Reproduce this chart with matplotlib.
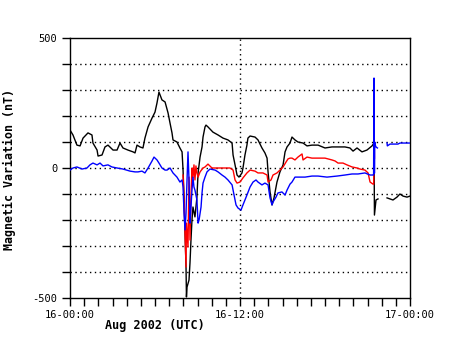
import numpy as np
import matplotlib
matplotlib.use("Agg")
import matplotlib.pyplot as plt

# hours since 16-00:00 (UTC), values in nT
black_t = [0.00, 0.21, 0.49, 0.71, 0.92, 1.27, 1.55, 1.62, 1.91, 1.98, 2.26, 2.47, 2.68, 3.04, 3.32, 3.53,
           3.74, 4.09, 4.45, 4.59, 4.73, 4.94, 5.15, 5.29, 5.51, 5.79, 6.00, 6.14, 6.28, 6.49, 6.71, 6.92,
           7.06, 7.20, 7.27, 7.55, 7.76, 7.91, 7.98, 8.05, 8.12, 8.19, 8.22, 8.26, 8.40, 8.47, 8.54, 8.61,
           8.68, 8.82, 8.96, 9.04, 9.18, 9.32, 9.39, 9.53, 9.60, 9.74, 10.09, 10.45, 10.80, 11.15, 11.44,
           11.51, 11.65, 11.79, 11.93, 12.14, 12.21, 12.35, 12.49, 12.56, 12.71, 13.06, 13.27, 13.55,
           13.76, 13.91, 13.98, 14.12, 14.26, 14.40, 14.61, 14.82, 15.04, 15.18, 15.32, 15.53, 15.67,
           15.88, 16.09, 16.45, 16.73, 17.08, 17.51, 18.00, 18.49, 18.92, 19.41, 19.76, 19.98, 20.26,
           20.61, 20.96, 21.32, 21.46, 21.49, 21.60, 21.74, 21.75,
           22.38, 22.59, 22.80, 23.08, 23.29, 23.51, 23.79, 24.00]
black_v = [146, 127, 88, 85, 115, 135, 127, 96, 69, 46, 50, 81, 88, 69, 69, 96,
           77, 69, 62, 58, 88, 81, 77, 115, 158, 192, 215, 250, 292, 262, 254, 212,
           173, 135, 108, 100, 77, 62, -8, -112, -250, -381, -496, -458, -431, -365, -277, -200,
           -150, -188, -112, -19, 42, 81, 119, 158, 165, 158, 138, 127, 115, 108, 96,
           50, 12, -27, -35, -19, 0, 50, 88, 115, 123, 119, 108, 77,
           58, 38, -15, -92, -142, -115, -54, -15, 12, 62, 81, 96, 119,
           108, 100, 96, 85, 88, 88, 77, 81, 81, 81, 77, 65, 77,
           62, 69, 85, 96, -181, -123, -119, np.nan,
           -115, -119, -123, -112, -100, -108, -112, -108]

red_t = [7.98, 8.05, 8.19, 8.22, 8.33, 8.40, 8.47, 8.54, 8.61, 8.68, 8.75, 8.82, 8.89, 8.96, 9.04,
         9.18, 9.39, 9.53, 9.74, 10.02, 10.38, 10.80, 11.29, 11.51, 11.65, 11.79, 12.00, 12.21,
         12.49, 12.71, 13.06, 13.27, 13.62, 13.91, 13.98, 14.19, 14.33, 14.61, 14.82, 15.04,
         15.25, 15.39, 15.53, 15.67, 15.88, 16.09, 16.38, 16.45, 16.73, 17.08, 17.51, 18.00,
         18.49, 18.71, 18.92, 19.27, 19.55, 19.91, 20.26, 20.47, 20.82, 21.04, 21.18, 21.39,
         21.44, 21.46, 21.49]
red_v = [-27, -123, -381, -212, -304, -35, -277, -104, 0, -38, 12, -46, 8, -19, -35,
         -15, 0, 4, 15, 0, 0, 0, 0, -8, -46, -58, -54, -38,
         -19, -8, -12, -19, -19, -27, -54, -46, -27, -19, -8, 4,
         23, 35, 38, 38, 31, 42, 54, 31, 42, 38, 38, 38,
         31, 27, 19, 19, 12, 4, 0, -4, -8, -19, -54, -62,
         -62, 196, 38]

blue_t = [0.00, 0.21, 0.49, 0.85, 1.20, 1.41, 1.62, 1.91, 2.12, 2.33, 2.68, 2.96, 3.32, 3.74, 4.24,
          4.59, 4.80, 5.08, 5.29, 5.51, 5.79, 5.93, 6.14, 6.28, 6.49, 6.71, 6.85, 7.06, 7.27, 7.55,
          7.76, 7.91, 7.98, 8.05, 8.12, 8.19, 8.26, 8.33, 8.40, 8.47, 8.54, 8.61, 8.68, 8.75, 8.82,
          8.96, 9.04, 9.11, 9.25, 9.32, 9.39, 9.53, 9.67, 9.88, 10.24, 10.45, 10.73, 10.94, 11.15,
          11.44, 11.58, 11.72, 11.86, 12.07, 12.21, 12.49, 12.71, 12.92, 13.13, 13.27, 13.55, 13.76,
          13.98, 14.12, 14.26, 14.33, 14.54, 14.68, 14.96, 15.18, 15.32, 15.53, 15.67, 15.88, 16.09,
          16.59, 17.08, 17.51, 18.14, 18.85, 19.41, 19.91, 20.33, 20.82, 21.18, 21.39, 21.43, 21.46,
          21.49, 21.51, 21.55, 21.60, 21.70, 21.71,
          22.38, 22.40, 22.59, 23.15, 23.29, 23.79, 24.00]
blue_v = [-8, 0, 4, -4, 0, 12, 19, 12, 19, 8, 12, 4, 0, -4, -12,
          -15, -15, -12, -19, 0, 27, 42, 31, 19, 0, -8, -8, 0, -19, -35,
          -54, -46, -73, -173, -238, -173, -46, 62, -46, -212, -150, -85, -35, -73, -85,
          -123, -212, -200, -150, -96, -58, -35, -15, -4, -8, -15, -27, -35, -46,
          -65, -104, -142, -154, -162, -142, -104, -73, -54, -46, -54, -65, -58,
          -65, -115, -142, -131, -112, -96, -92, -104, -85, -62, -54, -35, -35,
          -35, -31, -31, -35, -31, -27, -23, -23, -19, -27, -27, -27, 346,
          -20, 100, 88, 81, 77, np.nan,
          96, 85, 92, 92, 96, 96, 96]

y_ticks = list(range(-500, 501, 100))
y_labels = ["-500", "", "", "", "", "0", "", "", "", "", "500"]
x_ticks = list(range(0, 25))
x_labels = ["16-00:00"] + [""] * 11 + ["16-12:00"] + [""] * 11 + ["17-00:00"]

fig = plt.figure(figsize=(4.5, 3.58), dpi=100)
ax = fig.add_axes([70 / 450, 60 / 358, 340 / 450, 260 / 358])

mono = "DejaVu Sans Mono"

# grid
for yv in range(-400, 401, 100):
    ax.axhline(yv, color="black", lw=1.0, ls=(0, (1, 2.5)), zorder=1)
ax.axvline(12, color="black", lw=1.0, ls=(0, (1, 2.5)), zorder=1)

ax.plot(black_t, black_v, color="black", lw=1.0, zorder=3)
ax.plot(red_t, red_v, color="#ff0000", lw=1.0, zorder=4)
ax.plot(blue_t, blue_v, color="#0000ff", lw=1.0, zorder=5)

ax.set_xlim(0, 24)
ax.set_ylim(-500, 500)
ax.set_yticks(y_ticks)
ax.set_yticklabels(y_labels, fontfamily=mono, fontsize=7.5)
ax.set_xticks(x_ticks)
ax.set_xticklabels(x_labels, fontfamily=mono, fontsize=7.5)
ax.tick_params(axis="both", direction="out", length=6, width=1, colors="black", pad=3)

for s in ax.spines.values():
    s.set_linewidth(1.0)
    s.set_color("black")

fig.text(9 / 450, 1 - 170 / 358, "Magnetic Variation (nT)", rotation=90,
         ha="center", va="center", fontfamily=mono, fontweight="bold", fontsize=8.4)
fig.text(105 / 450, 1 - 326 / 358, "Aug 2002 (UTC)", ha="left", va="center",
         fontfamily=mono, fontweight="bold", fontsize=8.5)

fig.savefig("out.png", dpi=100, facecolor="white")
